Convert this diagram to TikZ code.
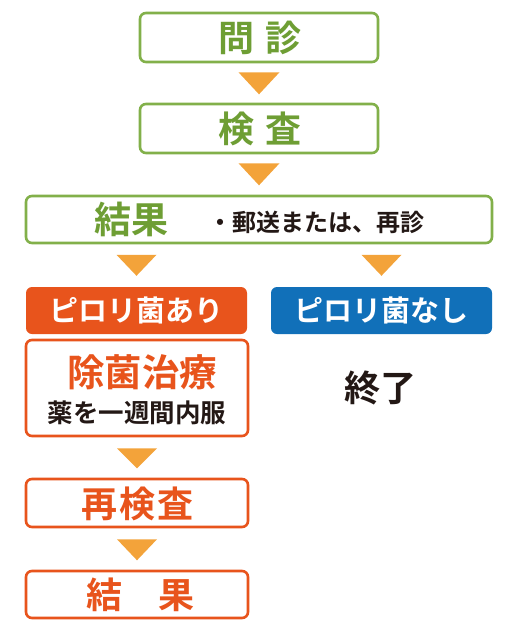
\documentclass[tikz,border=0pt]{standalone}
\usepackage{fontspec}
\setmainfont{Noto Sans CJK JP}[BoldFont={* Bold}]
\usetikzlibrary{calc}
\definecolor{gborder}{HTML}{82B04A}
\definecolor{gtext}{HTML}{6E9E34}
\definecolor{tri}{HTML}{F3A33A}
\definecolor{ored}{HTML}{E8541C}
\definecolor{blu}{HTML}{1170B9}
\definecolor{ink}{HTML}{231815}
\tikzset{
  gbox/.style={draw=gborder, line width=2.6pt, rounded corners=6pt, fill=white, inner sep=0pt},
  obox/.style={draw=ored, line width=2.6pt, rounded corners=6pt, fill=white, inner sep=0pt},
  ofill/.style={fill=ored, rounded corners=6pt, inner sep=0pt, text=white},
  bfill/.style={fill=blu, rounded corners=6pt, inner sep=0pt, text=white},
  tritip/.style={fill=tri, draw=none},
  big/.style={font=\fontsize{36}{40}\selectfont\bfseries},
  mid/.style={font=\fontsize{29}{32}\selectfont\bfseries},
  small/.style={font=\fontsize{25.5}{28}\selectfont\bfseries}
}
\begin{document}
\begin{tikzpicture}[x=1pt,y=-1pt]
\useasboundingbox (0,0) rectangle (518,632);
% boxes
\node[gbox, minimum width=238pt, minimum height=49pt] (b1) at (259,37.5) {};
\node[gbox, minimum width=238pt, minimum height=49pt] (b2) at (259,128.5) {};
\node[gbox, minimum width=466pt, minimum height=47pt] (b3) at (259,219.5) {};
\node[ofill, minimum width=221pt, minimum height=47pt, mid] (yes) at (136.5,310.5) {ピロリ菌あり};
\node[bfill, minimum width=221pt, minimum height=47pt, mid] (no) at (381.5,310.5) {ピロリ菌なし};
\node[obox, minimum width=222pt, minimum height=96pt] (treat) at (137,388) {};
\node[obox, minimum width=222pt, minimum height=48pt] (re) at (137,503) {};
\node[obox, minimum width=222pt, minimum height=47pt] (res) at (137,594.5) {};
% texts
\node[big, text=gtext] (t1) at (260,37.5) {問\hspace{11pt}診};
\node[big, text=gtext] (t2) at (260,128.5) {検\hspace{11pt}査};
\node[big, font=\fontsize{37}{40}\selectfont\bfseries, text=gtext] (t3) at (131,219) {結果};
\node[small, font=\fontsize{24}{28}\selectfont\bfseries, text=ink] (t4) at (316,222) {・郵送または、再診};
\node[big, font=\fontsize{37.5}{40}\selectfont\bfseries, text=ored] (t5) at (142,372.5) {除菌治療};
\node[small, text=ink] (t6) at (137,413) {薬を一週間内服};
\node[big, text=ored] (t7) at (137.5,503.5) {再\hspace{2pt}検\hspace{2pt}査};
\node[big, text=ored] (t8) at (140,594.5) {結\hspace{36pt}果};
\node[big, text=ink] (t9) at (380,387.5) {終了};
% triangles
\fill[tritip] ($(b1.south)+(-20.5,9)$) -- ++(41,0) -- ($(b1.south)+(0,31)$) -- cycle;
\fill[tritip] ($(b2.south)+(-20.5,9)$) -- ++(41,0) -- ($(b2.south)+(0,31)$) -- cycle;
\fill[tritip] ($(yes.north)+(-20,-32)$) -- ++(40,0) -- ($(yes.north)+(0,-11)$) -- cycle;
\fill[tritip] ($(no.north)+(-20,-32)$) -- ++(40,0) -- ($(no.north)+(0,-11)$) -- cycle;
\fill[tritip] ($(treat.south)+(-20,11)$) -- ++(40,0) -- ($(treat.south)+(0,31)$) -- cycle;
\fill[tritip] ($(re.south)+(-20,11)$) -- ++(40,0) -- ($(re.south)+(0,32)$) -- cycle;
\end{tikzpicture}
\end{document}
